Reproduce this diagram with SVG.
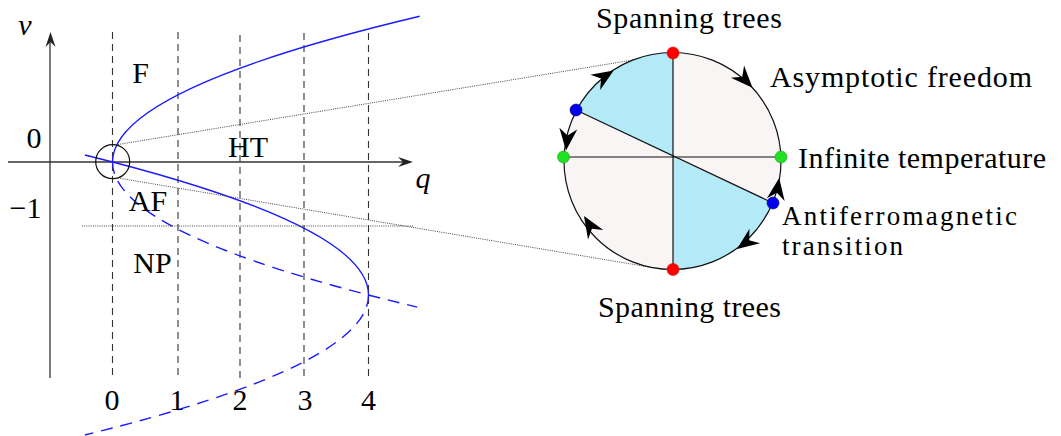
<svg xmlns="http://www.w3.org/2000/svg" width="1061" height="436" viewBox="0 0 1061 436">
<defs>
<style>
text{font-family:"Liberation Serif","Times New Roman",serif;font-size:30px;fill:#000}
.it{font-style:italic}
.mid{text-anchor:middle}
.axis{stroke:#333;stroke-width:1.3;fill:none}
.grid{stroke:#333;stroke-width:1.1;stroke-dasharray:7 5;fill:none}
.solid{stroke:#1a1aff;stroke-width:1.4;fill:none}
.dash{stroke:#1a1aff;stroke-width:1.4;fill:none;stroke-dasharray:12 8}
.dot{stroke:#444;stroke-width:1;fill:none;stroke-dasharray:1 1.2}
.ln{stroke:#111;stroke-width:1.2;fill:none}
.ah{fill:#000}
</style>
<path id="stealth" d="M0,0 L-22,-9 L-15,0 L-22,9 Z"/>
<path id="axhead" d="M0,0 L-15,-5 L-10,0 L-15,5 Z"/>
</defs>
<rect width="1061" height="436" fill="#fff"/>

<g id="left-plot">
  <g id="grid">
    <line class="grid" x1="112.5" y1="32" x2="112.5" y2="376"/>
    <line class="grid" x1="178" y1="32" x2="178" y2="377"/>
    <line class="grid" x1="240" y1="35" x2="240" y2="382"/>
    <line class="grid" x1="304" y1="33" x2="304" y2="377"/>
    <line class="grid" x1="368.5" y1="33" x2="368.5" y2="376"/>
  </g>
  <g id="axes">
    <line class="axis" x1="50" y1="378" x2="50" y2="40"/>
    <use href="#axhead" transform="translate(50.5,32) rotate(-90)" fill="#222"/>
    <line class="axis" x1="8" y1="162" x2="405" y2="162"/>
    <use href="#axhead" transform="translate(413,162)" fill="#222"/>
  </g>
  <g id="curves">
    <path class="solid" d="M112.5,162 Q112.5,89.2 419.7,16.3"/>
    <path class="dash" d="M112.5,162 Q112.5,234.6 417.2,307.1"/>
    <path class="solid" d="M368.5,295 Q368.5,225 84.9,155"/>
    <path class="dash" d="M368.5,295 Q368.5,365 84.9,435"/>
  </g>
  <circle id="zoom-circle" cx="112.7" cy="161.7" r="17" fill="none" stroke="#111" stroke-width="1.2"/>
  <g id="labels-left">
    <text class="it mid" x="25" y="35">v</text>
    <text class="mid" x="34" y="148">0</text>
    <text class="mid" x="25.5" y="218">−1</text>
    <text class="it mid" x="423" y="188">q</text>
    <text class="mid" x="140.5" y="83">F</text>
    <text class="mid" x="248" y="157">HT</text>
    <text class="mid" x="148" y="211">AF</text>
    <text class="mid" x="152.5" y="273">NP</text>
    <text class="mid" x="112" y="410">0</text>
    <text class="mid" x="177" y="410">1</text>
    <text class="mid" x="240" y="410">2</text>
    <text class="mid" x="305" y="410">3</text>
    <text class="mid" x="368.5" y="410">4</text>
  </g>
</g>

<g id="connectors">
  <line class="dot" x1="118" y1="144.5" x2="633" y2="60"/>
  <line class="dot" x1="118" y1="178" x2="655" y2="268"/>
  <line class="dot" x1="82" y1="226" x2="413" y2="226"/>
</g>

<g id="flow-circle">
  <circle cx="672.5" cy="161" r="108.5" fill="#f9f5f4"/>
  <path d="M673,157 L576,110 A108.5,108.5 0 0 1 673,52.5 Z" fill="#b4e9f8"/>
  <path d="M673,157 L773,203 A108.5,108.5 0 0 1 673,269.5 Z" fill="#b4e9f8"/>
  <line class="ln" x1="673" y1="53" x2="673" y2="269"/>
  <line class="ln" x1="563" y1="157" x2="781" y2="157"/>
  <line class="ln" x1="576" y1="110" x2="773" y2="203"/>
  <circle cx="672.5" cy="161" r="108.5" fill="none" stroke="#111" stroke-width="1.2"/>
  <g id="flow-arrows" class="ah">
    <use href="#stealth" transform="translate(613.7,70.4) rotate(-33)"/>
    <use href="#stealth" transform="translate(752.5,87.8) rotate(47)"/>
    <use href="#stealth" transform="translate(566,150.5) rotate(96)"/>
    <use href="#stealth" transform="translate(584,216) rotate(238)"/>
    <use href="#stealth" transform="translate(737,249) rotate(144)"/>
    <use href="#stealth" transform="translate(779.2,177.9) rotate(-81)"/>
  </g>
</g>

<g id="fixed-points">
  <circle id="st-top" cx="673" cy="53" r="6" fill="#ff0000" stroke="#d00" stroke-width="0.6"/>
  <circle id="st-bottom" cx="673" cy="269.5" r="6" fill="#ff0000" stroke="#d00" stroke-width="0.6"/>
  <circle id="it-left" cx="563.5" cy="157" r="6" fill="#22e022" stroke="#1a1" stroke-width="0.6"/>
  <circle id="it-right" cx="781" cy="157" r="6" fill="#22e022" stroke="#1a1" stroke-width="0.6"/>
  <circle id="af-ul" cx="576" cy="110" r="6" fill="#0000ee" stroke="#006" stroke-width="0.6"/>
  <circle id="af-lr" cx="773" cy="203" r="6" fill="#0000ee" stroke="#006" stroke-width="0.6"/>
</g>

<g id="labels-right">
  <text x="596" y="28" textLength="186">Spanning trees</text>
  <text x="598" y="317" textLength="183">Spanning trees</text>
  <text x="770" y="87" textLength="262">Asymptotic freedom</text>
  <text x="798" y="168" textLength="248">Infinite temperature</text>
  <text x="782" y="225" style="font-size:27px" textLength="235">Antiferromagnetic</text>
  <text x="782" y="255" style="font-size:27px" textLength="121">transition</text>
</g>
</svg>
